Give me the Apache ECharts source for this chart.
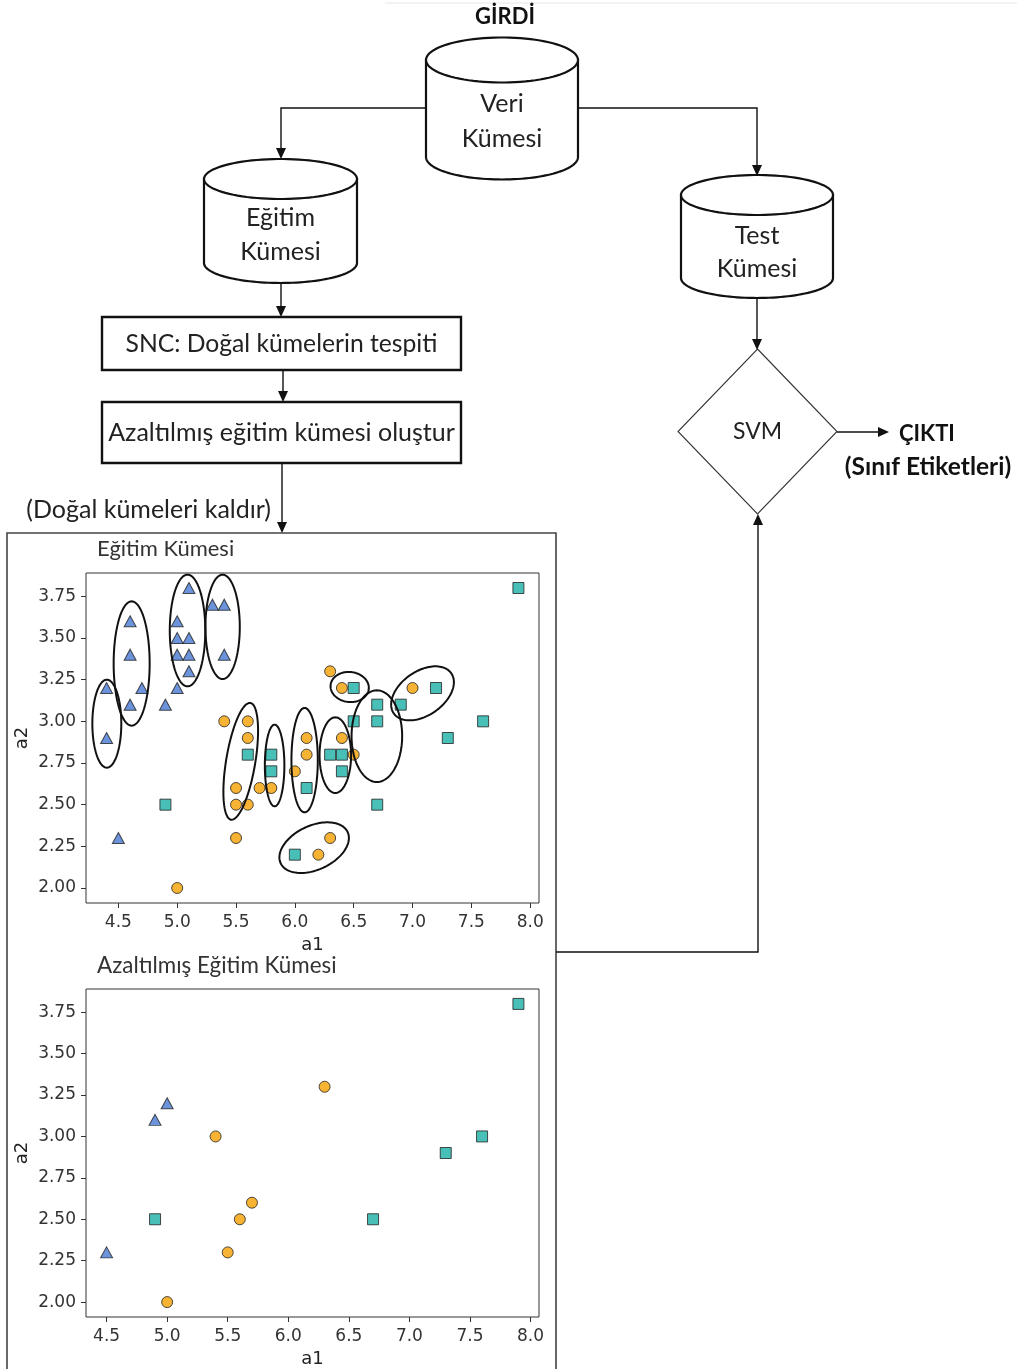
<!DOCTYPE html>
<html>
<head>
<meta charset="utf-8">
<script src="https://cdn.jsdelivr.net/npm/echarts@6/dist/echarts.min.js"></script>
<style>
  html, body { margin: 0; padding: 0; background: #fff; }
  #chart { width: 1017px; height: 1369px; }
</style>
</head>
<body>
<div id="chart"></div>
<script>
// Eğitim kümesi: (a1, a2) pairs for each of the three classes
const trainTriangles = [[5.1,3.8],[5.3,3.7],[5.4,3.7],[4.6,3.6],[5.0,3.6],[5.0,3.5],[5.1,3.5],[4.6,3.4],[5.0,3.4],[5.1,3.4],[5.4,3.4],[5.1,3.3],[4.4,3.2],[4.7,3.2],[5.0,3.2],[4.6,3.1],[4.9,3.1],[4.4,2.9],[4.5,2.3]];
const trainCircles = [[6.3,3.3],[6.4,3.2],[7.0,3.2],[5.4,3.0],[5.6,3.0],[5.6,2.9],[6.1,2.9],[6.4,2.9],[6.1,2.8],[6.5,2.8],[6.0,2.7],[5.5,2.6],[5.7,2.6],[5.8,2.6],[5.5,2.5],[5.6,2.5],[5.5,2.3],[6.3,2.3],[6.2,2.2],[5.0,2.0]];
const trainSquares = [[7.9,3.8],[6.5,3.2],[7.2,3.2],[6.7,3.1],[6.9,3.1],[6.5,3.0],[6.7,3.0],[7.6,3.0],[7.3,2.9],[5.6,2.8],[5.8,2.8],[6.3,2.8],[6.4,2.8],[5.8,2.7],[6.4,2.7],[6.1,2.6],[4.9,2.5],[6.7,2.5],[6.0,2.2]];

// Azaltılmış eğitim kümesi: points left after removing the natural clusters
const reducedTriangles = [[5.0,3.2],[4.9,3.1],[4.5,2.3]];
const reducedCircles = [[6.3,3.3],[5.4,3.0],[5.7,2.6],[5.6,2.5],[5.5,2.3],[5.0,2.0]];
const reducedSquares = [[7.9,3.8],[7.6,3.0],[7.3,2.9],[4.9,2.5],[6.7,2.5]];

// Natural clusters found by SNC: centre a1, centre a2, half-extent along a1, half-extent along a2, tilt (deg)
const clusterCentreA1 = [4.402, 4.613, 5.088, 5.386, 5.540, 5.828, 6.083, 6.344, 6.466, 6.697, 7.085, 6.164];
const clusterCentreA2 = [2.986, 3.347, 3.545, 3.567, 2.760, 2.735, 2.767, 2.797, 3.206, 2.911, 3.168, 2.242];
const clusterHalfA1  = [0.123, 0.153, 0.151, 0.146, 0.124, 0.083, 0.112, 0.134, 0.163, 0.215, 0.298, 0.314];
const clusterHalfA2  = [0.264, 0.373, 0.335, 0.313, 0.355, 0.245, 0.313, 0.227, 0.090, 0.275, 0.132, 0.132];
const clusterTilt    = [0, 0, 0, 0, -9.4, 0, 0, 0, -6, 0, 35, 25];

// Axis tick labels
const xTicks = [4.5, 5.0, 5.5, 6.0, 6.5, 7.0, 7.5, 8.0];
const yTicks = [2.0, 2.25, 2.5, 2.75, 3.0, 3.25, 3.5, 3.75];

const clusters = clusterCentreA1.map((c, i) =>
  [c, clusterCentreA2[i], clusterHalfA1[i], clusterHalfA2[i], clusterTilt[i]]);

// Axis extent with a 5% margin on each side of the data
function paddedExtent(sets, dim) {
  let lo = Infinity, hi = -Infinity;
  sets.forEach(s => s.forEach(p => { lo = Math.min(lo, p[dim]); hi = Math.max(hi, p[dim]); }));
  const m = (hi - lo) * 0.05;
  return [lo - m, hi + m];
}
const trainSets = [trainTriangles, trainCircles, trainSquares];
const reducedSets = [reducedTriangles, reducedCircles, reducedSquares];
const trainX = paddedExtent(trainSets, 0), trainY = paddedExtent(trainSets, 1);
const redX = paddedExtent(reducedSets, 0), redY = paddedExtent(reducedSets, 1);

const INK = '#111';
const TICK_FONT = 'DejaVu Sans';
const BOX_FONT = 'Lato';

function xAxisOpt(idx, ext) {
  return {
    type: 'value', gridIndex: idx, min: ext[0], max: ext[1],
    name: 'a1', nameLocation: 'middle', nameGap: 33,
    nameTextStyle: { fontFamily: TICK_FONT, fontSize: 18, color: '#222' },
    axisLine: { show: false },
    axisTick: { show: true, customValues: xTicks, length: 5, lineStyle: { color: '#333', width: 1 } },
    axisLabel: { customValues: xTicks, formatter: v => v.toFixed(1), fontFamily: TICK_FONT, fontSize: 17, color: '#333', margin: 11 },
    splitLine: { show: false }
  };
}
function yAxisOpt(idx, ext) {
  return {
    type: 'value', gridIndex: idx, min: ext[0], max: ext[1],
    name: 'a2', nameLocation: 'middle', nameGap: 55, nameRotate: 90,
    nameTextStyle: { fontFamily: TICK_FONT, fontSize: 18, color: '#222' },
    axisLine: { show: false },
    axisTick: { show: true, customValues: yTicks, length: 5, lineStyle: { color: '#333', width: 1 } },
    axisLabel: { customValues: yTicks, formatter: v => v.toFixed(2), fontFamily: TICK_FONT, fontSize: 17, color: '#333', margin: 10 },
    splitLine: { show: false }
  };
}

const markerStyle = {
  tri: { symbol: 'triangle', symbolSize: [12, 11], itemStyle: { color: '#4779d4', borderColor: '#222', borderWidth: 1 } },
  cir: { symbol: 'circle', symbolSize: 11, itemStyle: { color: '#f5a000', borderColor: '#222', borderWidth: 1 } },
  sq:  { symbol: 'rect', symbolSize: 11, itemStyle: { color: '#1cb0a5', borderColor: '#222', borderWidth: 1 } }
};
function scatter(idx, data, kind) {
  return Object.assign({ type: 'scatter', xAxisIndex: idx, yAxisIndex: idx, data: data, silent: true, z: 3 }, markerStyle[kind]);
}

// ---------- flowchart drawing ----------
const g = [];
function ellipsePoints(cx, cy, rx, ry, a0, a1, n) {
  const pts = [];
  for (let i = 0; i <= n; i++) {
    const t = a0 + (a1 - a0) * i / n;
    pts.push([cx + rx * Math.cos(t), cy + ry * Math.sin(t)]);
  }
  return pts;
}
function cylinder(cx, rx, topCy, botCy, ry) {
  const body = [[cx - rx, topCy]].concat(ellipsePoints(cx, botCy, rx, ry, Math.PI, 0, 60)).concat([[cx + rx, topCy]]);
  g.push({ type: 'polygon', shape: { points: body }, style: { fill: '#fff', stroke: INK, lineWidth: 2.2 }, z: 10 });
  g.push({ type: 'polygon', shape: { points: ellipsePoints(cx, topCy, rx, ry, 0, Math.PI * 2, 90) }, style: { fill: '#fff', stroke: INK, lineWidth: 2.2 }, z: 11 });
}
function wire(points, w) {
  g.push({ type: 'polyline', shape: { points: points }, style: { stroke: INK, lineWidth: w || 1.4, fill: null }, z: 5 });
}
function head(x, y, dir) {
  const L = 11, W = 5;
  let p;
  if (dir === 'down') p = [[x, y], [x - W, y - L], [x + W, y - L]];
  else if (dir === 'up') p = [[x, y], [x - W, y + L], [x + W, y + L]];
  else p = [[x, y], [x - L, y - W], [x - L, y + W]];
  g.push({ type: 'polygon', shape: { points: p }, style: { fill: INK }, z: 12 });
}
function label(x, y, text, size, weight, align, color) {
  g.push({ type: 'text', x: x, y: y, z: 20,
    style: { text: text, fontFamily: BOX_FONT, fontSize: size, fontWeight: weight || 'normal',
             fill: color || '#222', align: align || 'center', verticalAlign: 'middle' } });
}
function box(x, y, w, h) {
  g.push({ type: 'rect', shape: { x: x, y: y, width: w, height: h }, style: { fill: '#fff', stroke: INK, lineWidth: 2.4 }, z: 10 });
}

// faint rule along the top edge
g.push({ type: 'line', shape: { x1: 385, y1: 3, x2: 1017, y2: 3 }, style: { stroke: '#e6e6e6', lineWidth: 1 }, z: 1 });

label(505, 17, 'GİRDİ', 22, 'bold', 'center', '#111');

// Veri Kümesi -> Eğitim / Test
wire([[426, 108], [281, 108], [281, 150]]);
head(281, 159, 'down');
wire([[578, 108], [757, 108], [757, 167]]);
head(757, 176, 'down');

cylinder(502, 76, 60, 157, 22.5);
label(502, 104, 'Veri', 25);
label(502, 139, 'Kümesi', 25);

cylinder(280.5, 76.5, 179, 263, 20);
label(280.5, 218, 'Eğitim', 25);
label(280.5, 252, 'Kümesi', 25);

cylinder(757, 76, 195, 278, 20);
label(757, 236, 'Test', 25);
label(757, 269, 'Kümesi', 25);

// training branch
wire([[281, 283], [281, 309]]);
head(281, 317, 'down');
box(102, 317, 359, 53);
label(281.5, 344, 'SNC: Doğal kümelerin tespiti', 24.7);

wire([[283, 371], [283, 393]]);
head(283, 402, 'down');
box(102, 402, 359, 61);
label(281.5, 433, 'Azaltılmış eğitim kümesi oluştur', 25);

wire([[282, 464], [282, 524]]);
head(282, 533, 'down');
label(271, 510, '(Doğal kümeleri kaldır)', 25, 'normal', 'right');

// frame around the two scatter plots
g.push({ type: 'rect', shape: { x: 7, y: 533, width: 549, height: 900 }, style: { fill: null, stroke: '#444', lineWidth: 1.6 }, z: 2 });

label(97, 549, 'Eğitim Kümesi', 22, 'normal', 'left', '#333');
label(97, 966, 'Azaltılmış Eğitim Kümesi', 22.4, 'normal', 'left', '#333');

// reduced set -> SVM
wire([[556, 952], [758, 952], [758, 524]]);
head(758, 514, 'up');

// test branch -> SVM
wire([[757, 298], [757, 341]]);
head(757, 350, 'down');

g.push({ type: 'polygon', shape: { points: [[757.5, 349], [837, 431.5], [757.5, 514], [678, 431.5]] },
  style: { fill: '#fff', stroke: '#333', lineWidth: 1.1 }, z: 10 });
label(757.5, 432, 'SVM', 23);

wire([[837, 432], [880, 432]]);
head(889, 432, 'right');
label(899, 434, 'ÇIKTI', 22, 'bold', 'left', '#111');
label(928, 467, '(Sınıf Etiketleri)', 24.5, 'bold', 'center', '#111');

// ---------- chart ----------
const chart = echarts.init(document.getElementById('chart'), null, { renderer: 'canvas' });
chart.setOption({
  backgroundColor: '#fff',
  animation: false,
  grid: [
    { left: 86, top: 573, width: 453, height: 330, show: true, borderColor: '#333', borderWidth: 1, backgroundColor: 'transparent', z: 3 },
    { left: 86, top: 989, width: 453, height: 331, show: true, borderColor: '#333', borderWidth: 1, backgroundColor: 'transparent', z: 3 }
  ],
  xAxis: [xAxisOpt(0, trainX), xAxisOpt(1, redX)],
  yAxis: [yAxisOpt(0, trainY), yAxisOpt(1, redY)],
  series: [
    scatter(0, trainTriangles, 'tri'),
    scatter(0, trainCircles, 'cir'),
    scatter(0, trainSquares, 'sq'),
    {
      type: 'custom', xAxisIndex: 0, yAxisIndex: 0, data: clusters, silent: true, clip: false, z: 4,
      renderItem: function (params, api) {
        const c = api.coord([api.value(0), api.value(1)]);
        const s = api.size([api.value(2), api.value(3)]);
        const a = Math.abs(s[0]), b = Math.abs(s[1]);
        const th = api.value(4) * Math.PI / 180;
        const pts = [];
        for (let i = 0; i < 120; i++) {
          const t = i / 120 * Math.PI * 2;
          const u = a * Math.cos(t), v = b * Math.sin(t);
          pts.push([c[0] + u * Math.cos(th) - v * Math.sin(th), c[1] - (u * Math.sin(th) + v * Math.cos(th))]);
        }
        return { type: 'polygon', shape: { points: pts }, style: { fill: 'none', stroke: INK, lineWidth: 2 } };
      }
    },
    scatter(1, reducedTriangles, 'tri'),
    scatter(1, reducedCircles, 'cir'),
    scatter(1, reducedSquares, 'sq')
  ],
  graphic: { elements: g }
});
</script>
</body>
</html>
